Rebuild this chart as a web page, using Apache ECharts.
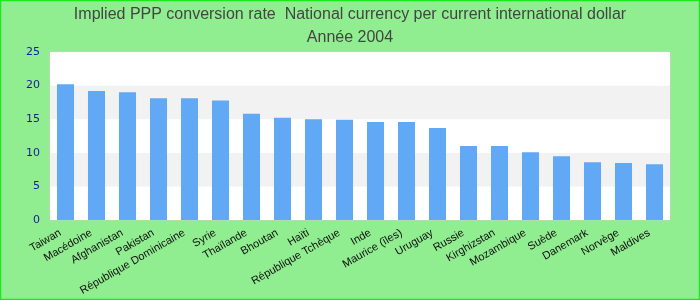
<!DOCTYPE html>
<html><head><meta charset="utf-8">
<script src="https://cdn.jsdelivr.net/npm/echarts@6/dist/echarts.min.js"></script>
<style>html,body{margin:0;padding:0;background:#90EE90}#c{width:700px;height:300px}</style>
</head><body><div id="c"></div>
<script>
var categories = ["Taiwan","Macédoine","Afghanistan","Pakistan","République Dominicaine","Syrie","Thaïlande","Bhoutan","Haïti","République Tchèque","Inde","Maurice (îles)","Uruguay","Russie","Kirghizstan","Mozambique","Suède","Danemark","Norvège","Maldives"];
var values = [20.2,19.2,19.0,18.1,18.1,17.8,15.8,15.2,15.0,14.9,14.6,14.6,13.7,11.0,11.0,10.1,9.5,8.6,8.5,8.3];
var yTicks = [0,5,10,15,20,25];
var titleLines = ["Implied PPP conversion rate  National currency per current international dollar","Année 2004"];

var chart = echarts.init(document.getElementById('c'));
chart.setOption({
  backgroundColor: '#90EE90',
  animation: false,
  title: {
    text: titleLines.join('\n'),
    left: 'center', top: -2,
    textStyle: {fontFamily: 'Liberation Sans Narrow, Arial Narrow, sans-serif', fontSize: 16, fontWeight: 'normal', color: '#444', lineHeight: 23}
  },
  graphic: [{type: 'rect', shape: {x: 0.5, y: 0.5, width: 699, height: 299}, style: {fill: 'none', stroke: '#1de81d', lineWidth: 1.5}, z: 100}],
  grid: {left: 50, right: 30, top: 52, bottom: 80, show: true, backgroundColor: '#fff', borderColor: '#ccc', borderWidth: 1},
  xAxis: {
    type: 'category', data: categories,
    axisLine: {show: false}, axisTick: {show: false},
    axisLabel: {rotate: 30, interval: 0, fontFamily: 'Liberation Sans, Arial, sans-serif', fontSize: 11, color: '#111', margin: 9, padding: [0, 6, 0, 0]}
  },
  yAxis: {
    type: 'value', min: yTicks[0], max: yTicks[yTicks.length-1], interval: 5,
    axisLine: {show: false}, axisTick: {show: false}, splitLine: {show: false},
    splitArea: {show: true, areaStyle: {color: ['#ffffff', '#f2f2f2']}},
    axisLabel: {fontFamily: 'DejaVu Sans, sans-serif', fontSize: 11, color: '#1a1a9a', margin: 10}
  },
  series: [{type: 'bar', data: values, barWidth: '55%', itemStyle: {color: '#61a9f4'}}]
});
</script></body></html>
